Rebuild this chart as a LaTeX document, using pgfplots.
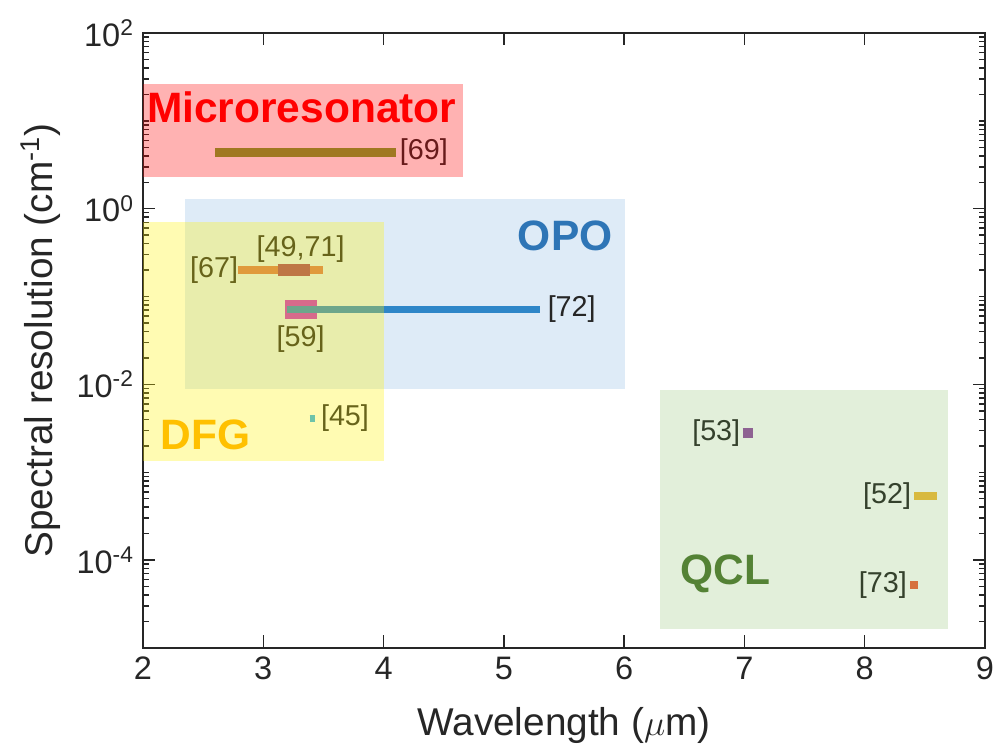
\documentclass[border=0pt]{standalone}
\usepackage{fontspec}
\setmainfont{Liberation Sans}
\usepackage{pgfplots}
\pgfplotsset{compat=1.18}
\usetikzlibrary{calc}
\definecolor{axgray}{RGB}{38,38,38}
\definecolor{opoFill}{RGB}{91,155,213}
\definecolor{qclFill}{RGB}{112,173,71}
\definecolor{c69}{RGB}{119,172,48}
\definecolor{c67}{RGB}{211,116,86}
\definecolor{c4971}{RGB}{162,65,100}
\definecolor{c59}{RGB}{198,48,200}
\definecolor{c72}{RGB}{46,134,200}
\definecolor{c45}{RGB}{48,176,243}
\definecolor{c53}{RGB}{150,80,165}
\definecolor{c52}{RGB}{242,189,62}
\definecolor{c73}{RGB}{240,98,60}
\definecolor{tMicro}{RGB}{255,0,0}
\definecolor{tOPO}{RGB}{46,117,182}
\definecolor{tDFG}{RGB}{255,192,0}
\definecolor{tQCL}{RGB}{84,130,53}
\begin{document}
\begin{tikzpicture}
\begin{axis}[
  scale only axis, width=336.8pt, height=246pt,
  xmin=2, xmax=9, ymode=log, ymin=1e-5, ymax=1e2,
  xtick={2,3,4,5,6,7,8,9}, xticklabels={2,3,4,5,6,7,8,9},
  ytick={1e-4,1e-2,1,1e2},
  yticklabels={10\textsuperscript{-4},10\textsuperscript{-2},10\textsuperscript{0},10\textsuperscript{2}},
  minor ytick={2e-5,3e-5,4e-5,5e-5,6e-5,7e-5,8e-5,9e-5,
    2e-4,3e-4,4e-4,5e-4,6e-4,7e-4,8e-4,9e-4,1e-3,
    2e-3,3e-3,4e-3,5e-3,6e-3,7e-3,8e-3,9e-3,
    2e-2,3e-2,4e-2,5e-2,6e-2,7e-2,8e-2,9e-2,1e-1,
    2e-1,3e-1,4e-1,5e-1,6e-1,7e-1,8e-1,9e-1,
    2,3,4,5,6,7,8,9,10,20,30,40,50,60,70,80,90},
  axis line style={axgray, line width=0.7pt},
  tick style={axgray, line width=0.6pt},
  major tick length=5pt, minor tick length=2.5pt,
  tick align=inside,
  ticklabel style={font=\fontsize{13}{15}\selectfont, text=axgray},
  clip=true,
]
% OPO patch (underneath)
\addplot[draw=none, fill=opoFill, fill opacity=0.2] coordinates {(2.35,0.0088) (6.01,0.0088) (6.01,1.28) (2.35,1.28)} -- cycle;
% data bars
\addplot[c69, line width=3.6pt] coordinates {(2.6,4.4) (4.1,4.4)};
\addplot[c67, line width=3.3pt] coordinates {(2.79,0.20) (3.5,0.20)};
\addplot[c4971, line width=5pt] coordinates {(3.12,0.20) (3.39,0.20)};
\addplot[c59, line width=7.6pt] coordinates {(3.18,0.072) (3.45,0.072)};
\addplot[c72, line width=2.8pt] coordinates {(3.2,0.072) (5.30,0.072)};
\addplot[c45, line width=2.8pt] coordinates {(3.385,0.0041) (3.43,0.0041)};
\addplot[c53, line width=4pt] coordinates {(6.985,0.0028) (7.07,0.0028)};
\addplot[c52, line width=3.2pt] coordinates {(8.41,5.3e-4) (8.60,5.3e-4)};
\addplot[c73, line width=3.2pt] coordinates {(8.38,5.2e-5) (8.44,5.2e-5)};
% reference labels
\begin{scope}[every node/.style={font=\fontsize{11.5}{13}\selectfont, text=axgray, inner sep=1pt}]
\node[anchor=west] at (axis cs:4.11,4.4) {[69]};
\node[anchor=east] at (axis cs:2.815,0.20) {[67]};
\node[anchor=center] at (axis cs:3.31,0.35) {[49,71]};
\node[anchor=center] at (axis cs:3.31,0.033) {[59]};
\node[anchor=west] at (axis cs:5.34,0.072) {[72]};
\node[anchor=west] at (axis cs:3.455,0.0041) {[45]};
\node[anchor=east] at (axis cs:6.99,0.0028) {[53]};
\node[anchor=east] at (axis cs:8.41,5.3e-4) {[52]};
\node[anchor=east] at (axis cs:8.375,5.2e-5) {[73]};
\end{scope}
% translucent patches on top
\addplot[draw=none, fill=red, fill opacity=0.3] coordinates {(2,2.28) (4.66,2.28) (4.66,26.4) (2,26.4)} -- cycle;
\addplot[draw=none, fill=yellow, fill opacity=0.3] coordinates {(2,0.00135) (4.0,0.00135) (4.0,0.705) (2,0.705)} -- cycle;
\addplot[draw=none, fill=qclFill, fill opacity=0.2] coordinates {(6.30,1.64e-5) (8.69,1.64e-5) (8.69,0.0087) (6.30,0.0087)} -- cycle;
% group labels
\begin{scope}[every node/.style={font=\fontsize{17}{20}\selectfont\bfseries, inner sep=0pt}]
\node[anchor=west, text=tMicro] at (axis cs:2.03,14.2) {Microresonator};
\node[anchor=center, text=tOPO] at (axis cs:5.51,0.49) {OPO};
\node[anchor=center, text=tDFG] at (axis cs:2.52,0.00266) {DFG};
\node[anchor=center, text=tQCL] at (axis cs:6.84,6.9e-5) {QCL};
\end{scope}
\end{axis}
\node[font=\fontsize{15.5}{18}\selectfont, text=axgray] at ($(current axis.south)+(0,-30.8pt)$) {Wavelength ($\mu$m)};
\node[rotate=90, font=\fontsize{15.5}{18}\selectfont, text=axgray] at ($(current axis.west)+(-41pt,0)$) {Spectral resolution (cm\textsuperscript{-1})};
\pgfresetboundingbox
\path[use as bounding box] ($(current axis.south west)+(-57.2pt,-39.2pt)$) rectangle ($(current axis.north east)+(5.2pt,13.2pt)$);
\end{tikzpicture}
\end{document}
